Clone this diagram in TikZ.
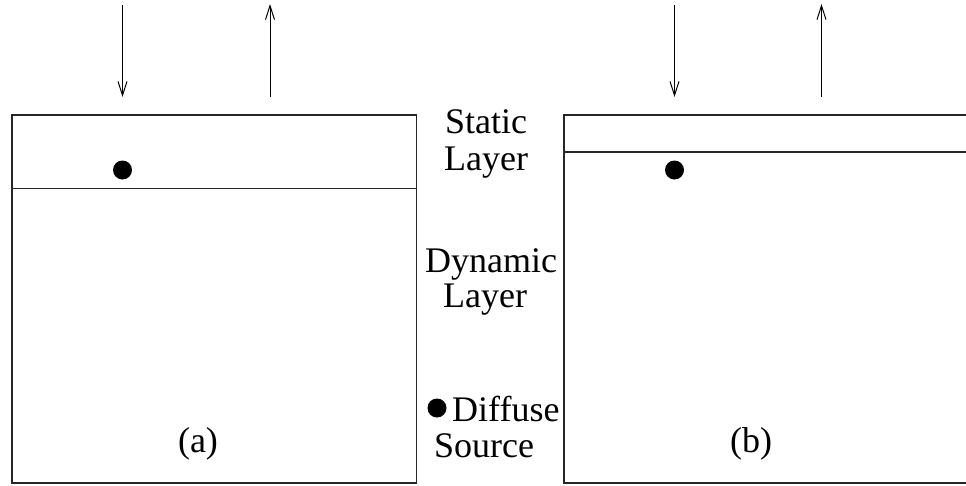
\documentclass[tikz,border=0pt]{standalone}
\usepackage{fontspec}
\setmainfont{Liberation Serif}
\usetikzlibrary{arrows.meta}
\begin{document}
\begin{tikzpicture}[x=1pt,y=-1pt,
  box/.style={line width=1.6pt, draw=black!85},
  flux/.style={line width=1pt, -{Straight Barb[length=14pt,width=9pt,line width=1pt]}},
  lbl/.style={anchor=base, inner sep=0pt, font=\fontsize{36}{40}\selectfont},
  dotmark/.style={circle, fill=black, inner sep=0pt, minimum size=19pt}]
\useasboundingbox (0,0) rectangle (966,485);
\clip (0,0) rectangle (966,485);
% box (a)
\coordinate (aTL) at (12,115);
\coordinate (aBR) at (416.5,483);
\draw[box] (aTL) rectangle (aBR);
\coordinate (aL) at (12,188.5);
\coordinate (aR) at (416.5,188.5);
\draw[box] (aL) -- (aR);
\node[dotmark] (adot) at (122.5,170) {};
\coordinate (ain0) at (122.5,5);
\coordinate (ain1) at (122.5,97);
\draw[flux] (ain0) -- (ain1);
\coordinate (aout0) at (270,97);
\coordinate (aout1) at (270,4);
\draw[flux] (aout0) -- (aout1);
\node[lbl] (alab) at (198,452) {(a)};
% box (b)
\coordinate (bTL) at (564,115);
\coordinate (bBR) at (975,483);
\draw[box] (bTL) rectangle (bBR);
\coordinate (bL) at (564,152);
\coordinate (bR) at (975,152);
\draw[box] (bL) -- (bR);
\node[dotmark] (bdot) at (674.5,170) {};
\coordinate (bin0) at (674.5,5);
\coordinate (bin1) at (674.5,97);
\draw[flux] (bin0) -- (bin1);
\coordinate (bout0) at (821.5,97);
\coordinate (bout1) at (821.5,4);
\draw[flux] (bout0) -- (bout1);
\node[lbl] (blab) at (751,452) {(b)};
% legend
\node[lbl] (st1) at (486,133) {Static};
\node[lbl] (st2) at (486,170) {Layer};
\node[lbl] (dy1) at (491,272) {Dynamic};
\node[lbl] (dy2) at (485,307) {Layer};
\node[dotmark] (ldot) at (437,408) {};
\node[lbl, anchor=base west] (df1) at (452,421) {Diffuse};
\node[lbl] (df2) at (484,457) {Source};
\end{tikzpicture}
\end{document}
